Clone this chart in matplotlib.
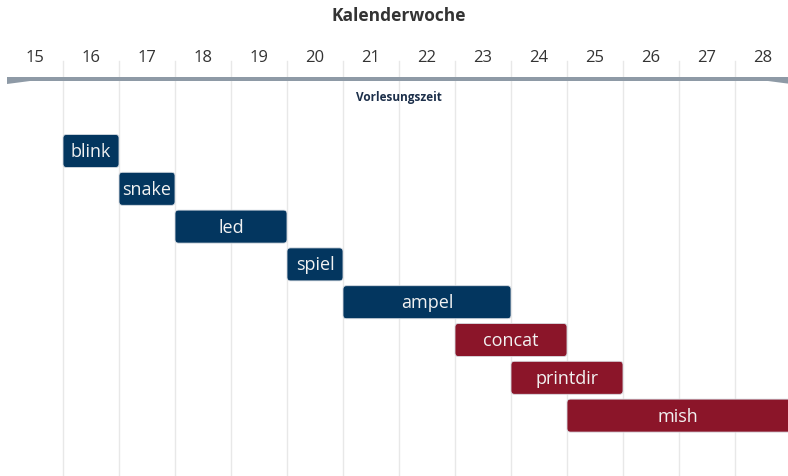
import matplotlib
matplotlib.use("Agg")
import matplotlib.pyplot as plt
from matplotlib.patches import FancyBboxPatch, Polygon

plt.rcParams['font.family'] = ['Open Sans', 'DejaVu Sans']

weeks = list(range(15, 29))
tasks = ["blink", "snake", "led", "spiel", "ampel", "concat", "printdir", "mish"]
start_week = [16, 17, 18, 20, 21, 23, 24, 25]
end_week = [16, 17, 19, 20, 23, 24, 25, 28]
groups = ["A", "A", "A", "A", "A", "B", "B", "B"]
colors = {"A": "#03365f", "B": "#8b1529"}
band_label = "Vorlesungszeit"
axis_title = "Kalenderwoche"

W, H = 788, 477
fig = plt.figure(figsize=(W / 100, H / 100), dpi=100)
ax = fig.add_axes([0, 0, 1, 1])
px_x = 56.0   # pixels per week
px_y = 37.8   # pixels per row
x0_px, y0_px = 35.0, 152.0
ax.set_xlim(15 - x0_px / px_x, 15 + (W - x0_px) / px_x)
ax.set_ylim((H - y0_px) / px_y, -y0_px / px_y)
ax.axis('off')

def ry(p):
    return (p - y0_px) / px_y

# grid lines at week boundaries
for w in weeks[:-1]:
    ax.plot([w + 0.5, w + 0.5], [ry(62), ry(H)], color="#e8e8e8", lw=1, zorder=0)

# week labels
for w in weeks:
    ax.text(w, ry(58), str(w), ha='center', va='center', fontsize=12, color="#333333")

ax.text(21.5, ry(16), axis_title, ha='center', va='center', fontsize=12.5, fontweight='bold', color="#333333")

# lecture period band
xl, xr = weeks[0] - 0.5, weeks[-1] + 0.5
taper = 23 / px_x
band = Polygon([(xl, ry(78)), (xr, ry(78)), (xr, ry(85)), (xr - taper, ry(82)),
                (xl + taper, ry(82)), (xl, ry(85))], closed=True,
               facecolor="#8e9aa6", edgecolor='none', zorder=2)
ax.add_patch(band)
ax.text((xl + xr) / 2, ry(98), band_label, ha='center', va='center', fontsize=8.5,
        fontweight='bold', color="#1c2f4a")

# bars
bar_h = 33 / px_y
aspect = (1 / px_y) / (1 / px_x)
for i, (t, s, e, g) in enumerate(zip(tasks, start_week, end_week, groups)):
    left = s - 0.5
    width = e - s + 1
    p = FancyBboxPatch((left, i - bar_h / 2), width, bar_h,
                       boxstyle="round,pad=0,rounding_size=%f" % (3.5 / px_x),
                       mutation_aspect=aspect, facecolor=colors[g],
                       edgecolor="#d9dde3", lw=0.6, zorder=3)
    ax.add_patch(p)
    xc = min(left + width / 2, left + (ax.get_xlim()[1] - left) / 2)
    ax.text(xc, i, t, ha='center', va='center', fontsize=13, color="#f2f2f2", zorder=4)

fig.savefig("out.png", dpi=100)
